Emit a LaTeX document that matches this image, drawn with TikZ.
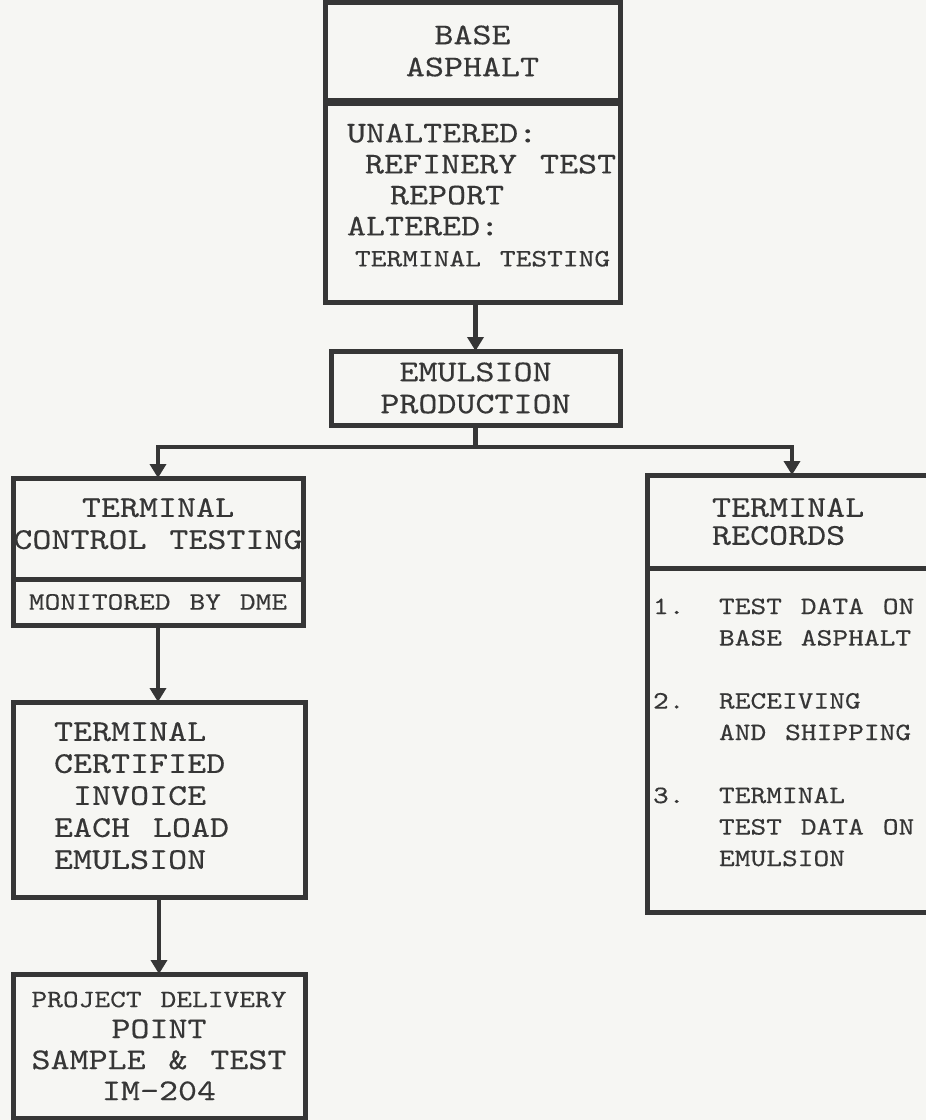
\documentclass[tikz,border=0pt]{standalone}
\usepackage{fontspec}
\newfontfamily\typer{lmmono10-regular.otf}[FakeStretch=1.2, WordSpace={1.2,0,0}, FakeBold=0.3]
\usetikzlibrary{arrows.meta,positioning}

\definecolor{ink}{HTML}{363636}
\definecolor{paper}{HTML}{F6F6F3}
\newcommand{\bigtype}{\typer\fontsize{15.1}{16}\selectfont}
\newcommand{\smalltype}{\typer\fontsize{12.5}{15.75}\selectfont}

\begin{document}
\begin{tikzpicture}[>={Triangle[length=7pt,width=8pt]}, x=0.5pt, y=-0.5pt,
    box/.style={draw=ink, line width=2.5pt, inner sep=0pt, outer sep=0pt, text=ink, font=\bigtype},
    flow/.style={draw=ink, line width=2.2pt}]
    % Page
    \path[use as bounding box, fill=paper] (0,0) rectangle (926,1120);
    \clip (0,0) rectangle (926,1120);

    % Base asphalt
    \node[box, minimum width=147.5pt, minimum height=49pt, align=center] (base) at (472.5,51) {BASE\\ASPHALT};
    \node[box, minimum width=147.5pt, minimum height=99.5pt, anchor=north, align=flush left, text width=125.5pt,
          font=\typer\fontsize{15.1}{15.5}\selectfont] (baseinfo) at (472.5,103)
        {UNALTERED:\\
         \mbox{\hspace{9pt}REFINERY TEST}\\
         \hspace*{21.5pt}REPORT\\
         ALTERED:\\
         \mbox{\smalltype\hspace{4pt}TERMINAL TESTING}\\[-8pt]\mbox{}};

    % Emulsion production
    \node[box, minimum width=144.5pt, minimum height=37pt, align=center] (emul) at (475.5,388) {EMULSION\\PRODUCTION};

    % Terminal control testing
    \node[box, minimum width=145pt, minimum height=50.5pt, align=center] (ctrl) at (158,528.5) {TERMINAL\\CONTROL TESTING\\[-11pt]\mbox{}};
    \node[box, minimum width=145pt, minimum height=23pt, anchor=north, font=\smalltype] (ctrlnote) at (ctrl.south) {MONITORED BY DME};

    % Certified invoice
    \node[box, minimum width=146pt, minimum height=97.5pt, align=flush left, text width=105pt] (invoice) at (159,799.5)
        {TERMINAL\\CERTIFIED\\\hspace*{9.5pt}INVOICE\\EACH LOAD\\EMULSION\\[-12pt]\mbox{}};

    % Project delivery point
    \node[box, minimum width=146pt, minimum height=72pt, align=center, font=\typer\fontsize{15.1}{15.5}\selectfont] (project) at (159,1046)
        {{\smalltype PROJECT DELIVERY}\\POINT\\SAMPLE \& TEST\\IM-204};

    % Terminal records
    \node[box, minimum width=145pt, minimum height=46.5pt, align=flush left, text width=80pt, font=\typer\fontsize{15.1}{14}\selectfont] (records) at (792,521.5)
        {TERMINAL\\RECORDS};
    \node[box, minimum width=145pt, minimum height=172pt, anchor=north, align=flush left, text width=139pt, font=\smalltype] (reclist) at (records.south)
        {\makebox[33pt][l]{1.}TEST DATA ON\\\hspace*{33pt}BASE ASPHALT\\[15.75pt]
         \makebox[33pt][l]{2.}RECEIVING\\\hspace*{33pt}AND SHIPPING\\[15.75pt]
         \makebox[33pt][l]{3.}TERMINAL\\\hspace*{33pt}TEST DATA ON\\\hspace*{33pt}EMULSION\\[-8pt]\mbox{}};

    % Connectors
    \coordinate (fork) at (emul.south |- 0,447);
    \draw[flow,->] (baseinfo.south -| emul.north) -- (emul.north);
    \draw[flow] (emul.south) -- (fork);
    \draw[flow,->] (fork) -| (ctrl.north);
    \draw[flow,->] (fork) -| (records.north);
    \draw[flow,->] (ctrlnote.south) -- (ctrlnote.south |- invoice.north);
    \draw[flow,->] (invoice.south) -- (invoice.south |- project.north);
\end{tikzpicture}
\end{document}
